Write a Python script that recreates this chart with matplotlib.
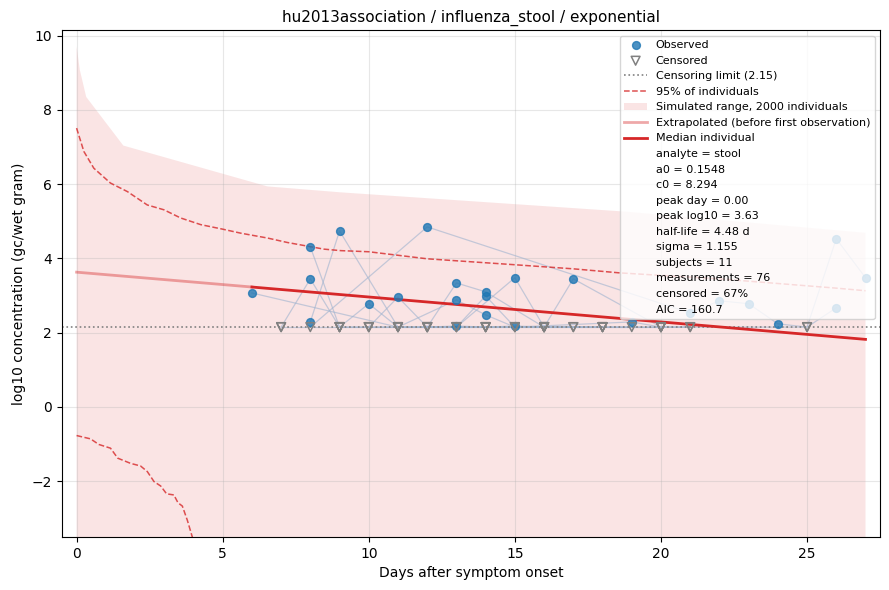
import numpy as np
import matplotlib
matplotlib.use('Agg')
import matplotlib.pyplot as plt
from matplotlib.lines import Line2D

# censoring limit (log10 gc/wet gram)
lod = 2.15
C = np.nan  # censored measurement

# per-subject trajectories (day, value); NaN = below limit
subjects = [
    ([6, 11, 16, 20], [3.07, C, C, C]),
    ([7, 8, 9, 10, 14], [C, 3.45, C, C, C]),
    ([8, 9, 10, 11, 13, 14, 15, 17], [4.31, C, 2.78, C, 2.88, 2.48, C, C]),
    ([8, 9, 11, 13, 14, 15, 18], [2.29, 4.74, C, C, 2.99, C, C]),
    ([8, 12, 21, 22, 23, 24, 25, 26], [C, 4.85, 2.53, 2.86, 2.78, 2.24, C, 2.67]),
    ([10, 11, 12, 15, 19, 20, 25, 26, 27], [C, 2.96, C, C, 2.29, C, C, 4.53, 3.48]),
    ([12, 13, 14, 16, 17, 20, 21], [C, 3.34, 3.10, C, 3.45, C, C]),
    ([9, 12, 13, 14, 16, 19], [C, C, 2.18, C, C, C]),
    ([12, 13, 15, 16, 18], [C, C, 3.48, C, C]),
    ([13, 14, 15, 16, 17, 18, 20, 21], [C, C, 2.18, C, C, C, C, C]),
    ([7, 9, 10, 11, 12, 14, 16, 18, 20], [C, C, C, C, C, C, C, C, C]),
]

# simulated population envelope (upper edge; lower edge is off-axis)
band_days = [0, 0.11, 0.33, 1.6, 6.53, 9.04, 18.8, 27]
band_upper = [9.71, 9.08, 8.35, 7.04, 5.94, 5.78, 5.26, 4.69]
band_lower = [-8, -8, -8, -8, -8, -8, -8, -8]

# 95% of individuals
hi95_days = [0, 0.25, 0.59, 1.16, 1.74, 2.42, 2.99, 3.56, 4.25, 4.99, 5.62, 6.53,
             7.21, 8.47, 9.04, 10, 12, 15, 17, 18.6, 22, 26, 27]
hi95_vals = [7.51, 6.88, 6.43, 6.03, 5.80, 5.44, 5.31, 5.09, 4.91, 4.79, 4.68, 4.55,
             4.43, 4.25, 4.21, 4.18, 3.99, 3.83, 3.72, 3.61, 3.45, 3.20, 3.13]
lo95_days = [0, 0.48, 0.76, 1.16, 1.41, 1.85, 2.19, 2.42, 2.65, 2.88, 3.08, 3.33,
             3.47, 3.62, 3.79, 3.96, 4.3]
lo95_vals = [-0.77, -0.86, -1.01, -1.11, -1.38, -1.52, -1.59, -1.74, -2.01, -2.13,
             -2.34, -2.37, -2.58, -2.67, -3.05, -3.50, -4.60]

# median individual
extrap_days = [0, 6]
extrap_vals = [3.63, 3.23]
median_days = [6, 27]
median_vals = [3.23, 1.82]

fit_info = [
    "analyte = stool",
    "a0 = 0.1548",
    "c0 = 8.294",
    "peak day = 0.00",
    "peak log10 = 3.63",
    "half-life = 4.48 d",
    "sigma = 1.155",
    "subjects = 11",
    "measurements = 76",
    "censored = 67%",
    "AIC = 160.7",
]

fig, ax = plt.subplots(figsize=(8.89, 5.9), dpi=100)

ax.fill_between(band_days, band_lower, band_upper, color='tab:red', alpha=0.12,
                linewidth=0, label='Simulated range, 2000 individuals')

# subject connecting lines
for days, vals in subjects:
    y = [lod if np.isnan(v) else v for v in vals]
    ax.plot(days, y, color='#9fb3cf', alpha=0.6, linewidth=0.9, zorder=2)

obs_x, obs_y, cen_x = [], [], []
for days, vals in subjects:
    for d, v in zip(days, vals):
        if np.isnan(v):
            cen_x.append(d)
        else:
            obs_x.append(d)
            obs_y.append(v)

ax.scatter(obs_x, obs_y, s=32, color='tab:blue', alpha=0.8, zorder=4, label='Observed')
ax.scatter(cen_x, [lod] * len(cen_x), s=40, marker='v', facecolors='none',
           edgecolors='gray', linewidths=1.1, zorder=4, label='Censored')
ax.axhline(lod, color='gray', linestyle=':', linewidth=1.2,
           label=f'Censoring limit ({lod})')

ax.plot(hi95_days, hi95_vals, color='tab:red', linestyle='--', linewidth=1.1,
        alpha=0.8, label='95% of individuals')
ax.plot(lo95_days, lo95_vals, color='tab:red', linestyle='--', linewidth=1.1, alpha=0.8)

ax.plot(extrap_days, extrap_vals, color='tab:red', alpha=0.4, linewidth=2,
        label='Extrapolated (before first observation)')
ax.plot(median_days, median_vals, color='tab:red', linewidth=2, label='Median individual')

ax.set_xlim(-0.5, 27.5)
ax.set_ylim(-3.5, 10.15)
ax.set_xlabel('Days after symptom onset')
ax.set_ylabel('log10 concentration (gc/wet gram)')
ax.set_title('hu2013association / influenza_stool / exponential', fontsize=11)
ax.grid(alpha=0.3)

handles, labels = ax.get_legend_handles_labels()
order = ['Observed', 'Censored', f'Censoring limit ({lod})', '95% of individuals',
         'Simulated range, 2000 individuals', 'Extrapolated (before first observation)',
         'Median individual']
hmap = dict(zip(labels, handles))
handles = [hmap[k] for k in order]
labels = list(order)
for txt in fit_info:
    handles.append(Line2D([], [], linestyle='none'))
    labels.append(txt)
ax.legend(handles, labels, loc='upper right', fontsize=8)

fig.subplots_adjust(left=0.0697, right=0.99, top=0.949, bottom=0.09)
fig.savefig('out.png', dpi=100)
